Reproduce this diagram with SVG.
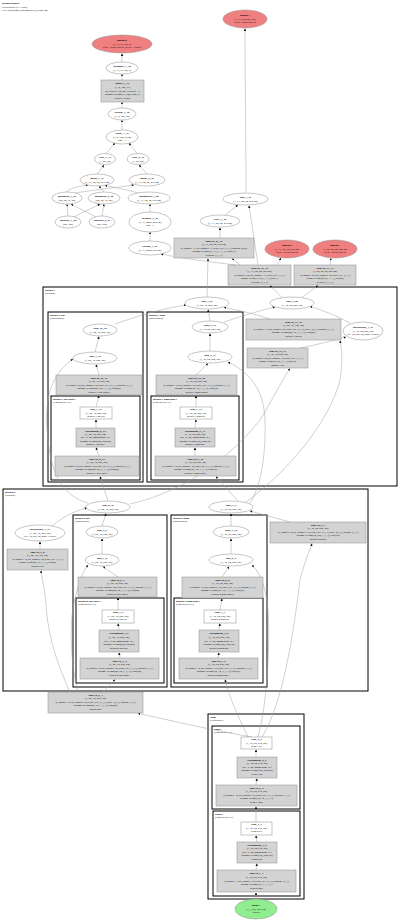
<svg xmlns="http://www.w3.org/2000/svg" width="400" height="920" viewBox="0 0 400 920">
<style>
text{font-family:"Liberation Serif",serif;font-size:2.7px;text-anchor:middle;fill:#000}
.b{font-weight:bold;font-size:2.8px}
.l{text-anchor:start}
.s{font-size:2.3px}
.e{fill:#fff;stroke:#8c8c8c;stroke-width:.5}
.g{fill:#d3d3d3;stroke:#8c8c8c;stroke-width:.5}
.w{fill:#fff;stroke:#8c8c8c;stroke-width:.5}
.r{fill:#f08080;stroke:#8c8c8c;stroke-width:.5}
.gr{fill:#90ee90;stroke:#8c8c8c;stroke-width:.5}
.c{fill:none;stroke:#000;stroke-width:1}
#edges path{fill:none;stroke:#a0a0a0;stroke-width:.5;marker-end:url(#a)}
</style>
<defs>
<marker id="a" viewBox="0 0 10 10" refX="10" refY="5" markerWidth="2.4" markerHeight="2.4" markerUnits="userSpaceOnUse" orient="auto"><path d="M0,0L10,5L0,10z" fill="#000"/></marker>
</defs>
<rect width="400" height="920" fill="#fff"/>
<g id="header">
<text x="2" y="4" class="l b">Bisenet3dBase</text>
<text x="2" y="7.5" class="l">Hierarchical (v1.7.5dp)</text>
<text x="2" y="11" class="l">3977 operations (x88 modules), depth: 48)</text>
</g>
<g id="clusters">
<rect class="c" x="43" y="287" width="354" height="199"/>
<text x="45" y="290.5" class="l b">dblock.1</text><text x="45" y="293.8" class="l">(DBlock)</text>
<rect class="c" x="48" y="312" width="95" height="170"/>
<text x="50" y="315.5" class="l b">dblock.1.low</text><text x="50" y="318.8" class="l">(BasicBlock)</text>
<rect class="c" x="51" y="396" width="89" height="84"/>
<text x="53" y="399.5" class="l b">dblock.1.low.conv1</text><text x="53" y="402.8" class="l">(ConvBNReLU)</text>
<rect class="c" x="147" y="312" width="96" height="170"/>
<text x="149" y="315.5" class="l b">dblock.1.high</text><text x="149" y="318.8" class="l">(BasicBlock)</text>
<rect class="c" x="151" y="396" width="88" height="84"/>
<text x="153" y="399.5" class="l b">dblock.1.high.conv1</text><text x="153" y="402.8" class="l">(ConvBNReLU)</text>
<rect class="c" x="3" y="489" width="365" height="202"/>
<text x="5" y="492.5" class="l b">dblock.0</text><text x="5" y="495.8" class="l">(DBlock)</text>
<rect class="c" x="73" y="515" width="94" height="172"/>
<text x="75" y="518.5" class="l b">dblock.0.low</text><text x="75" y="521.8" class="l">(BasicBlock)</text>
<rect class="c" x="76" y="598" width="88" height="85"/>
<text x="78" y="601.5" class="l b">dblock.0.low.conv1</text><text x="78" y="604.8" class="l">(ConvBNReLU)</text>
<rect class="c" x="171" y="515" width="96" height="172"/>
<text x="173" y="518.5" class="l b">dblock.0.high</text><text x="173" y="521.8" class="l">(BasicBlock)</text>
<rect class="c" x="174" y="598" width="89" height="85"/>
<text x="176" y="601.5" class="l b">dblock.0.high.conv1</text><text x="176" y="604.8" class="l">(ConvBNReLU)</text>
<rect class="c" x="208" y="714" width="96" height="185"/>
<text x="210" y="717.5" class="l b">stem</text><text x="210" y="720.8" class="l">(Sequential)</text>
<rect class="c" x="212" y="726" width="88" height="83"/>
<text x="214" y="729.5" class="l b">stem.1</text><text x="214" y="732.8" class="l">(ConvBNReLU)</text>
<rect class="c" x="213" y="811" width="87" height="85"/>
<text x="215" y="814.5" class="l b">stem.0</text><text x="215" y="817.8" class="l">(ConvBNReLU)</text>
</g>
<g id="edges">
<path d="M122,62L122,53.5"/>
<path d="M122,80L122,74"/>
<path d="M122,108L122,102"/>
<path d="M122,130L122,120"/>
<path d="M106,153.5L115,143"/>
<path d="M137,153.5L129,143"/>
<path d="M97,174L104,165"/>
<path d="M147,174L139,165"/>
<path d="M66,192C70,188 80,186 88,185"/>
<path d="M104,192L99,186"/>
<path d="M138,193C125,189 112,187 105,185.5"/>
<path d="M75,193C100,189 122,187 134,185"/>
<path d="M68,216L67,204"/>
<path d="M102,216L104,204"/>
<path d="M74,217C85,211 95,207 100,204"/>
<path d="M96,217C85,211 76,207 71,204"/>
<path d="M150,212L150,204"/>
<path d="M150,241L150,232"/>
<path d="M236,265C210,262 180,258 161,254"/>
<path d="M220,238L220,227.5"/>
<path d="M225,215L238,205"/>
<path d="M258,265C255,245 252,225 249,205.5"/>
<path d="M240,265L232,258.5"/>
<path d="M277,265L281,258"/>
<path d="M330,265L331,258"/>
<path d="M246,192C246,140 245,80 245,28.5"/>
<path d="M282,297.5L270,285.5"/>
<path d="M302,297.5L318,285.5"/>
<path d="M207,297L208,258.5"/>
<path d="M115,324C140,315 165,308 186,305"/>
<path d="M210,321L208,309.5"/>
<path d="M224,322C245,315 262,310 275,307"/>
<path d="M270,319C255,314 238,310 224,307.5"/>
<path d="M350,323C335,315 322,310 310,306.5"/>
<path d="M300,348C320,344 335,340 346,337"/>
<path d="M99,375L96,364.5"/>
<path d="M95,352L99,336.5"/>
<path d="M96,407L99,395.5"/>
<path d="M96,428L96,419.5"/>
<path d="M99,456L96,447.5"/>
<path d="M196,375L208,363.5"/>
<path d="M210,351L210,333.5"/>
<path d="M196,407L196,395.5"/>
<path d="M195,428L196,419.5"/>
<path d="M195,456L195,447.5"/>
<path d="M108,501L100,476.5"/>
<path d="M88,503C60,495 50,470 47,430C45,400 50,375 73,359"/>
<path d="M130,504C170,495 220,470 260,420C275,395 285,375 290,368.5"/>
<path d="M238,501L216,476.5"/>
<path d="M250,503C262,485 266,450 265,420C264,395 255,375 228,362"/>
<path d="M246,502C290,470 330,420 340,380C343,360 342,350 340,340.5"/>
<path d="M102,526L106,513.5"/>
<path d="M52,526C65,515 78,510 87,508"/>
<path d="M40,549L40,541.5"/>
<path d="M231,526L231,513.5"/>
<path d="M290,522L250,511"/>
<path d="M118,577L103,566.5"/>
<path d="M102,554L102,538.5"/>
<path d="M118,610L118,597.5"/>
<path d="M119,630L118,623.5"/>
<path d="M120,658L119,652.5"/>
<path d="M222,577L229,566.5"/>
<path d="M231,554L231,538.5"/>
<path d="M220,610L222,598.5"/>
<path d="M219,630L220,623.5"/>
<path d="M218,658L219,652.5"/>
<path d="M103,692L115,679.5"/>
<path d="M70,692C60,670 48,640 46,605C45,590 42,580 41,570.5"/>
<path d="M78,692C72,670 70,640 72,615C75,595 80,575 88,565"/>
<path d="M248,737C230,700 228,690 225,679.5"/>
<path d="M252,737C200,728 170,720 138,713.5"/>
<path d="M258,737C268,700 270,640 268,610C266,590 262,575 252,565"/>
<path d="M262,737C285,700 295,620 300,580C305,560 310,550 312,543.5"/>
<path d="M256,757L256,749.5"/>
<path d="M256,785L257,778.5"/>
<path d="M256,822L256,806.5"/>
<path d="M257,842L256,835.5"/>
<path d="M256,870L257,863.5"/>
<path d="M256,899L256,892.5"/>
</g>
<g id="output0"><ellipse class="r" cx="122" cy="44" rx="30" ry="9"/><text x="122" y="41.3" class="b">output.0</text><text x="122" y="44.8">(1, 17, 8, 128, 8)</text><text x="122" y="48.3">dtype=torch.float32, device=cuda:0</text></g>
<g id="output1"><ellipse class="r" cx="245" cy="19" rx="22" ry="9"/><text x="245" y="16.3" class="b">output.1</text><text x="245" y="19.8">(1, 17, 64, 256, 64)</text><text x="245" y="23.3">dtype=torch.float32</text></g>
<g id="permute_1_38"><ellipse class="e" cx="122" cy="68" rx="16" ry="6"/><text x="122" y="67.2" class="b">permute_1_38</text><text x="122" y="70.6">(1, 17, 8, 128, 8)</text></g>
<g id="linear_1_37"><rect class="g" x="101" y="80" width="43" height="22"/><text x="122.5" y="84.2" class="b">linear_1_37</text><text x="122.5" y="87.9">(1, 8, 128, 17)</text><text x="122.5" y="91.6">in_features=64, out_features=17</text><text x="122.5" y="95.3">params: weight(17, 64), bias(17)</text><text x="122.5" y="99">default_layout</text></g>
<g id="flatten_1_36"><ellipse class="e" cx="122" cy="114" rx="14" ry="6"/><text x="122" y="113.2" class="b">flatten_1_36</text><text x="122" y="116.6">(1, 8, 128, 64)</text></g>
<g id="stack_1_35"><ellipse class="e" cx="122" cy="137" rx="16" ry="7"/><text x="122" y="134.4" class="b">stack_1_35</text><text x="122" y="137.8">(1, 8, 128, 8, 64)</text><text x="122" y="141.2">dim=-1</text></g>
<g id="view_1_33"><ellipse class="e" cx="105" cy="159" rx="10.5" ry="5.5"/><text x="105" y="158.2" class="b">view_1_33</text><text x="105" y="161.6">(1, 64, 64)</text></g>
<g id="view_2_34"><ellipse class="e" cx="138" cy="159" rx="11" ry="5.5"/><text x="138" y="158.2" class="b">view_2_34</text><text x="138" y="161.6">(1, 64, 64)</text></g>
<g id="mean_1_31"><ellipse class="e" cx="97" cy="180" rx="17" ry="6"/><text x="97" y="179.2" class="b">mean_1_31</text><text x="97" y="182.6">(1, 17, 64, 64, 275 64)</text></g>
<g id="mean_2_32"><ellipse class="e" cx="147" cy="180" rx="18" ry="6"/><text x="147" y="179.2" class="b">mean_2_32</text><text x="147" y="182.6">(1, 17, 64, 64, 275 64)</text></g>
<g id="meshgrid_1_29"><ellipse class="e" cx="67" cy="198" rx="15" ry="6"/><text x="67" y="197.2" class="b">meshgrid_1_29</text><text x="67" y="200.6">(64, 64, 16, 64)</text></g>
<g id="meshgrid_2_30"><ellipse class="e" cx="104" cy="198" rx="16" ry="6"/><text x="104" y="197.2" class="b">meshgrid_2_30</text><text x="104" y="200.6">(64, 64, 16, 64)</text></g>
<g id="unsqueeze_1_28"><ellipse class="e" cx="149" cy="198" rx="21" ry="6"/><text x="149" y="197.2" class="b">unsqueeze_1_28</text><text x="149" y="200.6">(1, 17, 64, 64, 275 64)</text></g>
<g id="linspace_1_26"><ellipse class="e" cx="68" cy="222" rx="13" ry="6"/><text x="68" y="221.2" class="b">linspace_1_26</text><text x="68" y="224.6">(64, 128)</text></g>
<g id="linspace_2_27"><ellipse class="e" cx="102" cy="222" rx="13" ry="6"/><text x="102" y="221.2" class="b">linspace_2_27</text><text x="102" y="224.6">(64, 128)</text></g>
<g id="softmax_1_25"><ellipse class="e" cx="150" cy="222" rx="21" ry="10"/><text x="150" y="219.4" class="b">softmax_1_25</text><text x="150" y="222.8">(1, 17, 4096, 275 64)</text><text x="150" y="226.2">dim=-1</text></g>
<g id="flatten_1_24"><ellipse class="e" cx="150" cy="248" rx="21" ry="7"/><text x="150" y="247.2" class="b">flatten_1_24</text><text x="150" y="250.6">(1, 17, 4096, 275 64)</text></g>
<g id="add_3_41"><ellipse class="e" cx="245.5" cy="199" rx="22.5" ry="6"/><text x="245.5" y="198.2" class="b">add_3_41</text><text x="245.5" y="201.6">(1, 17, 64, 64, 275 64)</text></g>
<g id="view_1_40"><ellipse class="e" cx="220" cy="221" rx="20" ry="6"/><text x="220" y="220.2" class="b">view_1_40</text><text x="220" y="223.6">(1, 17, 64, 64, 275 64)</text></g>
<g id="conv3d_16_39"><rect class="g" x="174" y="238" width="80" height="20"/><text x="214" y="241.8" class="b">conv3d_16_39</text><text x="214" y="245.3">(1, 17, 64, 64, 275 64)</text><text x="214" y="248.8" class="s">in_channels=17, out_channels=17, kernel_size=(1,1,1), padding=(0,0,0)</text><text x="214" y="252.3">params: weight(17, 17, 1, 1, 1), bias(17)</text><text x="214" y="255.8">dilation=(1,1,1)</text></g>
<g id="output2"><ellipse class="r" cx="287" cy="249" rx="22" ry="9"/><text x="287" y="246.3" class="b">output.2</text><text x="287" y="249.8">(1, 17, 64, 64, 275 64)</text><text x="287" y="253.3">dtype=torch.float32</text></g>
<g id="output3"><ellipse class="r" cx="335" cy="249" rx="22" ry="9"/><text x="335" y="246.3" class="b">output.3</text><text x="335" y="249.8">(1, 64, 64, 64, 256 64)</text><text x="335" y="253.3">dtype=torch.float32</text></g>
<g id="conv3d_16_32"><rect class="g" x="228" y="265" width="63" height="20"/><text x="259.5" y="268.8" class="b">conv3d_16_32</text><text x="259.5" y="272.3">(1, 17, 64, 64, 275 64)</text><text x="259.5" y="275.8" class="s">in_channels=64, out_channels=17, kernel_size=(1,1,1)</text><text x="259.5" y="279.3" class="s">params: weight(17, 64, 1, 1, 1), bias(17)</text><text x="259.5" y="282.8">dilation=(1,1,1)</text></g>
<g id="conv3d_17_33"><rect class="g" x="294" y="265" width="62" height="20"/><text x="325" y="268.8" class="b">conv3d_17_33</text><text x="325" y="272.3">(1, 64, 64, 64, 256 64)</text><text x="325" y="275.8" class="s">in_channels=64, out_channels=64, kernel_size=(1,1,1)</text><text x="325" y="279.3" class="s">params: weight(64, 64, 1, 1, 1), bias(64)</text><text x="325" y="282.8">dilation=(1,1,1)</text></g>
<g id="add_3_21"><ellipse class="e" cx="207" cy="303" rx="22" ry="6"/><text x="207" y="302.2" class="b">add_3_21</text><text x="207" y="305.6">(1, 64, 32, 256, 64)</text></g>
<g id="add_4_20"><ellipse class="e" cx="292" cy="303" rx="22" ry="6"/><text x="292" y="302.2" class="b">add_4_20</text><text x="292" y="305.6">(1, 32, 64, 256, 64)</text></g>
<g id="relu_10_18"><ellipse class="e" cx="100" cy="330" rx="17" ry="6"/><text x="100" y="329.2" class="b">relu_10_18</text><text x="100" y="332.6">(1, 64, 32, 256, 64)</text></g>
<g id="add_1_16"><ellipse class="e" cx="95" cy="358" rx="22" ry="6"/><text x="95" y="357.2" class="b">add_1_16</text><text x="95" y="360.6">(1, 64, 32, 256, 64)</text></g>
<g id="conv3d_10_17"><rect class="g" x="56" y="375" width="86" height="20"/><text x="99" y="378.8" class="b">conv3d_10_17</text><text x="99" y="382.3">(1, 64, 32, 256, 64)</text><text x="99" y="385.8" class="s">in_channels=64, out_channels=64, kernel_size=(3,3,3), padding=(1,1,1)</text><text x="99" y="389.3">params: weight(64, 64, 3, 3, 3), bias(64)</text><text x="99" y="392.8">dblock.1.low.conv2</text></g>
<g id="relu_7_15"><rect class="w" x="80" y="407" width="32" height="12"/><text x="96" y="410.2" class="b">relu_7_15</text><text x="96" y="413.6">(1, 64, 32, 256, 64)</text><text x="96" y="417">dblock.1.low.act</text></g>
<g id="batchnorm_8_14"><rect class="g" x="76" y="428" width="39" height="19"/><text x="95.5" y="431.6" class="b">batchnorm_8_14</text><text x="95.5" y="435">(1, 64, 32, 256, 64)</text><text x="95.5" y="438.4">eps=1e-05, momentum=0.1</text><text x="95.5" y="441.8">params: weight(64), bias(64)</text><text x="95.5" y="445.2">dblock.1.low.bn1</text></g>
<g id="conv3d_8_13"><rect class="g" x="55" y="456" width="84" height="20"/><text x="97" y="459.8" class="b">conv3d_8_13</text><text x="97" y="463.3">(1, 64, 32, 256, 64)</text><text x="97" y="466.8" class="s">in_channels=64, out_channels=64, kernel_size=(3,3,3), padding=(1,1,1)</text><text x="97" y="470.3">params: weight(64, 64, 3, 3, 3), bias(64)</text><text x="97" y="473.8">dblock.1.low.conv1</text></g>
<g id="relu_6_19"><ellipse class="e" cx="210" cy="327" rx="18" ry="6"/><text x="210" y="326.2" class="b">relu_6_19</text><text x="210" y="329.6">(1, 32, 64, 256, 64)</text></g>
<g id="add_5_17"><ellipse class="e" cx="210" cy="357" rx="22" ry="6"/><text x="210" y="356.2" class="b">add_5_17</text><text x="210" y="359.6">(1, 32, 64, 256, 64)</text></g>
<g id="conv3d_12_16"><rect class="g" x="156" y="375" width="81" height="20"/><text x="196.5" y="378.8" class="b">conv3d_12_16</text><text x="196.5" y="382.3">(1, 32, 64, 256, 64)</text><text x="196.5" y="385.8" class="s">in_channels=32, out_channels=32, kernel_size=(3,3,3), padding=(1,1,1)</text><text x="196.5" y="389.3">params: weight(32, 32, 3, 3, 3), bias(32)</text><text x="196.5" y="392.8">dblock.1.high.conv2</text></g>
<g id="relu_7_14"><rect class="w" x="180" y="407" width="32" height="12"/><text x="196" y="410.2" class="b">relu_7_14</text><text x="196" y="413.6">(1, 32, 64, 256, 64)</text><text x="196" y="417">dblock.1.high.act</text></g>
<g id="batchnorm_9_13"><rect class="g" x="175" y="428" width="40" height="19"/><text x="195" y="431.6" class="b">batchnorm_9_13</text><text x="195" y="435">(1, 32, 64, 256, 64)</text><text x="195" y="438.4">eps=1e-05, momentum=0.1</text><text x="195" y="441.8">params: weight(32), bias(32)</text><text x="195" y="445.2">dblock.1.high.bn1</text></g>
<g id="conv3d_9_12"><rect class="g" x="155" y="456" width="81" height="20"/><text x="195.5" y="459.8" class="b">conv3d_9_12</text><text x="195.5" y="463.3">(1, 32, 64, 256, 64)</text><text x="195.5" y="466.8" class="s">in_channels=32, out_channels=32, kernel_size=(3,3,3), padding=(1,1,1)</text><text x="195.5" y="470.3">params: weight(32, 32, 3, 3, 3), bias(32)</text><text x="195.5" y="473.8">dblock.1.high.conv1</text></g>
<g id="conv3d_14_19"><rect class="g" x="246" y="319" width="95" height="21"/><text x="293.5" y="322.9" class="b">conv3d_14_19</text><text x="293.5" y="326.4">(1, 64, 32, 128, 64)</text><text x="293.5" y="329.9" class="s">in_channels=32, out_channels=64, kernel_size=(3,3,3), stride=(2,1,1), padding=(1,1,1)</text><text x="293.5" y="333.4">params: weight(64, 32, 3, 3, 3), bias(64)</text><text x="293.5" y="336.9">dblock.1.down</text></g>
<g id="interpolate_1_19"><ellipse class="e" cx="363" cy="331" rx="20" ry="9"/><text x="363" y="328.4" class="b">interpolate_1_19</text><text x="363" y="331.8">(1, 32, 64, 256, 64)</text><text x="363" y="335.2" class="s">size=(64, 256, 64), mode=trilinear</text></g>
<g id="conv3d_15_11"><rect class="g" x="247" y="348" width="61" height="20"/><text x="277.5" y="351.8" class="b">conv3d_15_11</text><text x="277.5" y="355.3">(1, 32, 32, 256, 64)</text><text x="277.5" y="358.8" class="s">in_channels=64, out_channels=32, kernel_size=(1,1,1)</text><text x="277.5" y="362.3" class="s">params: weight(32, 64, 1, 1, 1), bias(32)</text><text x="277.5" y="365.8">dblock.1.up</text></g>
<g id="add_2_10"><ellipse class="e" cx="108" cy="507" rx="22" ry="6"/><text x="108" y="506.2" class="b">add_2_10</text><text x="108" y="509.6">(1, 64, 32, 256, 64)</text></g>
<g id="add_3_9"><ellipse class="e" cx="231" cy="507" rx="22" ry="6"/><text x="231" y="506.2" class="b">add_3_9</text><text x="231" y="509.6">(1, 32, 64, 256, 64)</text></g>
<g id="interpolate_1_11"><ellipse class="e" cx="40" cy="533" rx="25" ry="8"/><text x="40" y="530.4" class="b">interpolate_1_11</text><text x="40" y="533.8">(1, 64, 32, 256, 64)</text><text x="40" y="537.2" class="s">size=(32, 256, 64), mode=trilinear</text></g>
<g id="conv3d_4_8"><rect class="g" x="7" y="549" width="61" height="21"/><text x="37.5" y="552.9" class="b">conv3d_4_8</text><text x="37.5" y="556.4">(1, 64, 32, 128, 64)</text><text x="37.5" y="559.9" class="s">in_channels=32, out_channels=64, kernel_size=(1,1,1)</text><text x="37.5" y="563.4" class="s">params: weight(64, 32, 1, 1, 1), bias(64)</text><text x="37.5" y="566.9">dblock.0.up</text></g>
<g id="conv3d_5_7"><rect class="g" x="270" y="522" width="96" height="21"/><text x="318" y="525.9" class="b">conv3d_5_7</text><text x="318" y="529.4">(1, 32, 64, 256, 64)</text><text x="318" y="532.9" class="s">in_channels=64, out_channels=32, kernel_size=(3,3,3), stride=(2,1,1), padding=(1,1,1)</text><text x="318" y="536.4">params: weight(32, 64, 3, 3, 3), bias(32)</text><text x="318" y="539.9">dblock.0.down</text></g>
<g id="relu_5_9"><ellipse class="e" cx="102" cy="532" rx="16" ry="6"/><text x="102" y="531.2" class="b">relu_5_9</text><text x="102" y="534.6">(1, 64, 32, 256, 64)</text></g>
<g id="add_1_8"><ellipse class="e" cx="102" cy="560" rx="17" ry="6"/><text x="102" y="559.2" class="b">add_1_8</text><text x="102" y="562.6">(1, 64, 32, 256, 64)</text></g>
<g id="conv3d_6_7"><rect class="g" x="78" y="577" width="79" height="20"/><text x="117.5" y="580.8" class="b">conv3d_6_7</text><text x="117.5" y="584.3">(1, 64, 32, 256, 64)</text><text x="117.5" y="587.8" class="s">in_channels=64, out_channels=64, kernel_size=(3,3,3), padding=(1,1,1)</text><text x="117.5" y="591.3">params: weight(64, 64, 3, 3, 3), bias(64)</text><text x="117.5" y="594.8">dblock.0.low.conv2</text></g>
<g id="relu_3_6"><rect class="w" x="102" y="610" width="32" height="13"/><text x="118" y="613.4" class="b">relu_3_6</text><text x="118" y="616.9">(1, 64, 32, 256, 64)</text><text x="118" y="620.4">dblock.0.low.act</text></g>
<g id="batchnorm_3_5"><rect class="g" x="99" y="630" width="40" height="22"/><text x="119" y="634.2" class="b">batchnorm_3_5</text><text x="119" y="637.9">(1, 64, 32, 256, 64)</text><text x="119" y="641.6">eps=1e-05, momentum=0.1</text><text x="119" y="645.3">params: weight(64), bias(64)</text><text x="119" y="649">dblock.0.low.bn1</text></g>
<g id="conv3d_3_4"><rect class="g" x="80" y="658" width="79" height="21"/><text x="119.5" y="661.9" class="b">conv3d_3_4</text><text x="119.5" y="665.4">(1, 64, 32, 256, 64)</text><text x="119.5" y="668.9" class="s">in_channels=64, out_channels=64, kernel_size=(3,3,3), padding=(1,1,1)</text><text x="119.5" y="672.4">params: weight(64, 64, 3, 3, 3), bias(64)</text><text x="119.5" y="675.9">dblock.0.low.conv1</text></g>
<g id="relu_4_10"><ellipse class="e" cx="231" cy="532" rx="18" ry="6"/><text x="231" y="531.2" class="b">relu_4_10</text><text x="231" y="534.6">(1, 32, 64, 256, 64)</text></g>
<g id="add_2_9"><ellipse class="e" cx="231" cy="560" rx="22" ry="6"/><text x="231" y="559.2" class="b">add_2_9</text><text x="231" y="562.6">(1, 32, 64, 256, 64)</text></g>
<g id="conv3d_6_8"><rect class="g" x="182" y="577" width="81" height="21"/><text x="222.5" y="580.9" class="b">conv3d_6_8</text><text x="222.5" y="584.4">(1, 32, 64, 256, 64)</text><text x="222.5" y="587.9" class="s">in_channels=32, out_channels=32, kernel_size=(3,3,3), padding=(1,1,1)</text><text x="222.5" y="591.4">params: weight(32, 32, 3, 3, 3), bias(32)</text><text x="222.5" y="594.9">dblock.0.high.conv2</text></g>
<g id="relu_3_7"><rect class="w" x="204" y="610" width="32" height="13"/><text x="220" y="613.4" class="b">relu_3_7</text><text x="220" y="616.9">(1, 32, 64, 256, 64)</text><text x="220" y="620.4">dblock.0.high.act</text></g>
<g id="batchnorm_4_6"><rect class="g" x="199" y="630" width="40" height="22"/><text x="219" y="634.2" class="b">batchnorm_4_6</text><text x="219" y="637.9">(1, 32, 64, 256, 64)</text><text x="219" y="641.6">eps=1e-05, momentum=0.1</text><text x="219" y="645.3">params: weight(32), bias(32)</text><text x="219" y="649">dblock.0.high.bn1</text></g>
<g id="conv3d_4_5"><rect class="g" x="179" y="658" width="79" height="21"/><text x="218.5" y="661.9" class="b">conv3d_4_5</text><text x="218.5" y="665.4">(1, 32, 64, 256, 64)</text><text x="218.5" y="668.9" class="s">in_channels=32, out_channels=32, kernel_size=(3,3,3), padding=(1,1,1)</text><text x="218.5" y="672.4">params: weight(32, 32, 3, 3, 3), bias(32)</text><text x="218.5" y="675.9">dblock.0.high.conv1</text></g>
<g id="conv3d_2_3"><rect class="g" x="48" y="692" width="95" height="21"/><text x="95.5" y="695.9" class="b">conv3d_2_3</text><text x="95.5" y="699.4">(1, 64, 32, 256, 64)</text><text x="95.5" y="702.9" class="s">in_channels=32, out_channels=64, kernel_size=(3,3,3), stride=(2,1,1), padding=(1,1,1)</text><text x="95.5" y="706.4">params: weight(64, 32, 3, 3, 3), bias(64)</text><text x="95.5" y="709.9">down.conv</text></g>
<g id="relu_2_6"><rect class="w" x="241" y="737" width="31" height="12"/><text x="256.5" y="740.2" class="b">relu_2_6</text><text x="256.5" y="743.6">(1, 32, 64, 512, 64)</text><text x="256.5" y="747">stem.1.act</text></g>
<g id="batchnorm_2_5"><rect class="g" x="237" y="757" width="40" height="21"/><text x="257" y="760.9" class="b">batchnorm_2_5</text><text x="257" y="764.4">(1, 32, 64, 512, 64)</text><text x="257" y="767.9">eps=1e-05, momentum=0.1</text><text x="257" y="771.4">params: weight(32), bias(32)</text><text x="257" y="774.9">stem.1.bn</text></g>
<g id="conv3d_2_4"><rect class="g" x="216" y="785" width="81" height="21"/><text x="256.5" y="788.9" class="b">conv3d_2_4</text><text x="256.5" y="792.4">(1, 32, 64, 512, 64)</text><text x="256.5" y="795.9" class="s">in_channels=32, out_channels=32, kernel_size=(3,3,3), padding=(1,1,1)</text><text x="256.5" y="799.4">params: weight(32, 32, 3, 3, 3)</text><text x="256.5" y="802.9">stem.1.conv</text></g>
<g id="relu_1_3"><rect class="w" x="241" y="822" width="31" height="13"/><text x="256.5" y="825.4" class="b">relu_1_3</text><text x="256.5" y="828.9">(1, 32, 64, 512, 64)</text><text x="256.5" y="832.4">stem.0.act</text></g>
<g id="batchnorm_1_2"><rect class="g" x="237" y="842" width="40" height="21"/><text x="257" y="845.9" class="b">batchnorm_1_2</text><text x="257" y="849.4">(1, 32, 64, 512, 64)</text><text x="257" y="852.9">eps=1e-05, momentum=0.1</text><text x="257" y="856.4">params: weight(32), bias(32)</text><text x="257" y="859.9">stem.0.bn</text></g>
<g id="conv3d_1_1"><rect class="g" x="217" y="870" width="79" height="22"/><text x="256.5" y="874.2" class="b">conv3d_1_1</text><text x="256.5" y="877.9">(1, 32, 64, 512, 64)</text><text x="256.5" y="881.6" class="s">in_channels=1, out_channels=32, kernel_size=(3,3,3), padding=(1,1,1)</text><text x="256.5" y="885.3">params: weight(32, 1, 3, 3, 3)</text><text x="256.5" y="889">stem.0.conv</text></g>
<g id="input1"><ellipse class="gr" cx="256" cy="909" rx="21" ry="10"/><text x="256" y="906.3" class="b">input.1</text><text x="256" y="909.8">(1, 1, 64, 512, 64)</text><text x="256" y="913.3">float32</text></g>
</svg>
